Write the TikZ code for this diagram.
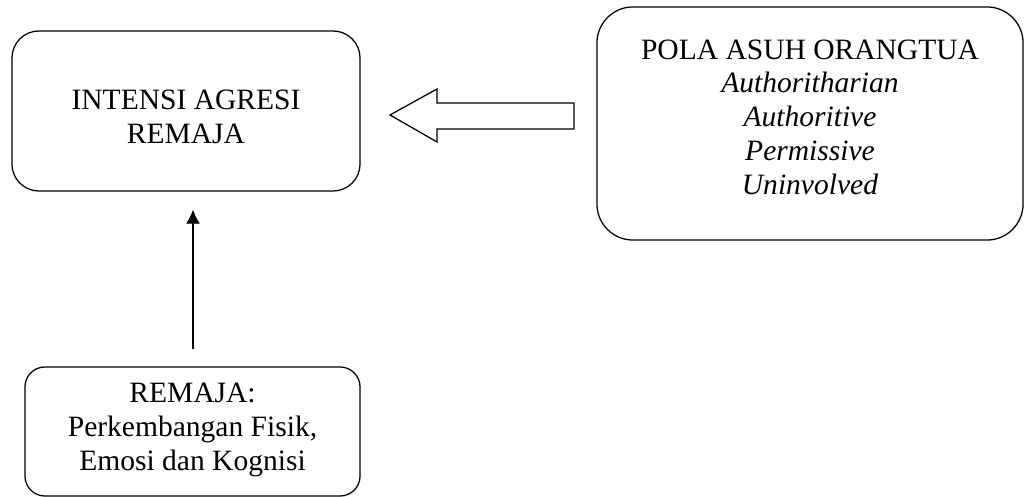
\documentclass[tikz,border=0pt]{standalone}
\usepackage{fontspec}
\setmainfont{Liberation Serif}
\usepackage{tikz}
\usetikzlibrary{positioning}
\usetikzlibrary{arrows.meta}
\usetikzlibrary{calc}

\begin{document}
\begin{tikzpicture}[x=0.025cm, y=-0.025cm, >={Latex[length=10pt,width=10pt]},
  box/.style={draw, rounded corners=#1, line width=0.9pt, align=center, inner sep=0pt},
  box/.default=0.675cm,
  txt/.style={align=center, inner sep=0pt}]

\useasboundingbox (0,0) rectangle (1025,497);
\fontsize{21}{24}\selectfont

% boxes
\node [box, minimum width=8.7cm, minimum height=4cm] (intensi) at (186,111) {};
\node [txt] (intensilbl) at (186,117) {INTENSI AGRESI\\REMAJA};
\node [box=0.9cm, minimum width=10.65cm, minimum height=5.825cm] (pola) at (810,123.5) {};
\node [txt] (polalbl) at (810,117)
  {\fontsize{21}{24.6}\selectfont POLA ASUH ORANGTUA\\\textit{Authoritharian}\\\textit{Authoritive}\\\textit{Permissive}\\\textit{Uninvolved}};
\node [box=0.5cm, minimum width=8.375cm, minimum height=3.225cm] (remaja) at (192.5,431.5) {};
\node [txt] (remajalbl) at (192.5,430)
  {\fontsize{21}{28}\selectfont REMAJA:\\Perkembangan Fisik,\\Emosi dan Kognisi};

% block arrow pola -> intensi
\draw [line width=0.9pt, line join=miter] (390,115) -- (437,89) -- (437,103) -- (574,103)
  -- (574,129) -- (437,129) -- (437,142) -- cycle;

% remaja -> intensi
\draw [line width=0.9pt, ->, shorten <=14\pgflinewidth, shorten >=0.45cm]
  ($(remaja.north)+(0.5,0)$) -- ($(remaja.north |- intensi.south)+(0.5,0)$);

\end{tikzpicture}
\end{document}
